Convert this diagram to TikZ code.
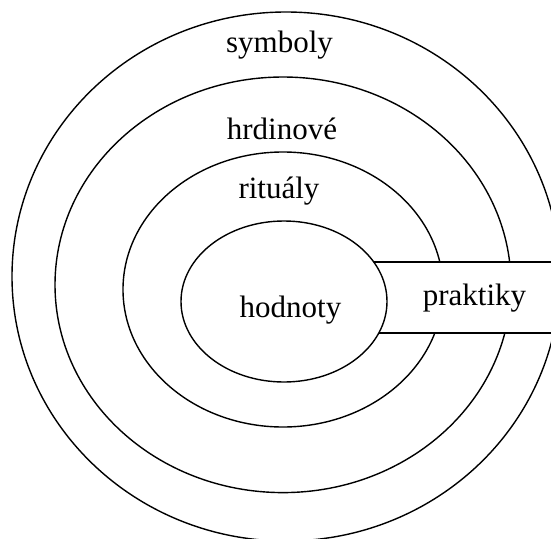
\documentclass[tikz,border=0pt]{standalone}
\usepackage{fontspec}
\setmainfont{Liberation Serif}
\usepackage{tikz}
\usetikzlibrary{shapes.geometric, positioning}
\definecolor{kuLine}{HTML}{000000}
\tikzset{
  ku-ring/.style={
    ellipse, draw=kuLine, line width=1.4pt, inner sep=0pt
  },
  ku-label/.style={
    anchor=base, inner sep=0pt, font=\fontsize{31}{37}\selectfont
  },
  ku-band/.style={draw=kuLine, line width=1.4pt},
}

\begin{document}
\begin{tikzpicture}[x=1pt, y=-1pt]
  \useasboundingbox (0,0) rectangle (551,538);
  \clip (0,0) rectangle (551,538);
  \node[ku-ring, minimum width=548pt, minimum height=529pt] (symb) at (286,276.5) {};
  \node[ku-ring, minimum width=456pt, minimum height=415.6pt] (hrdi) at (283,284.8) {};
  \node[ku-ring, minimum width=320pt, minimum height=275pt] (ritu) at (283,289.5) {};

  % band for praktiky
  \coordinate (bandtl) at (284,262);
  \coordinate (bandtr) at (560,262);
  \coordinate (bandbl) at (284,333);
  \coordinate (bandbr) at (560,333);
  \fill[white] (bandtl) rectangle (bandbr);
  \draw[ku-band] (bandtl) -- (bandtr);
  \draw[ku-band] (bandbl) -- (bandbr);

  \node[ku-ring, fill=white, minimum width=206pt, minimum height=161pt] (hodn) at (284,301.5) {};

  \node[ku-label] (symbt) at (279.5,52) {symboly};
  \node[ku-label] (hrdit) at (282,139) {hrdinové};
  \node[ku-label] (ritut) at (279,198) {rituály};
  \node[ku-label] (hodnt) at (290.5,317) {hodnoty};
  \node[ku-label] (prakt) at (474.5,305) {praktiky};
\end{tikzpicture}
\end{document}
